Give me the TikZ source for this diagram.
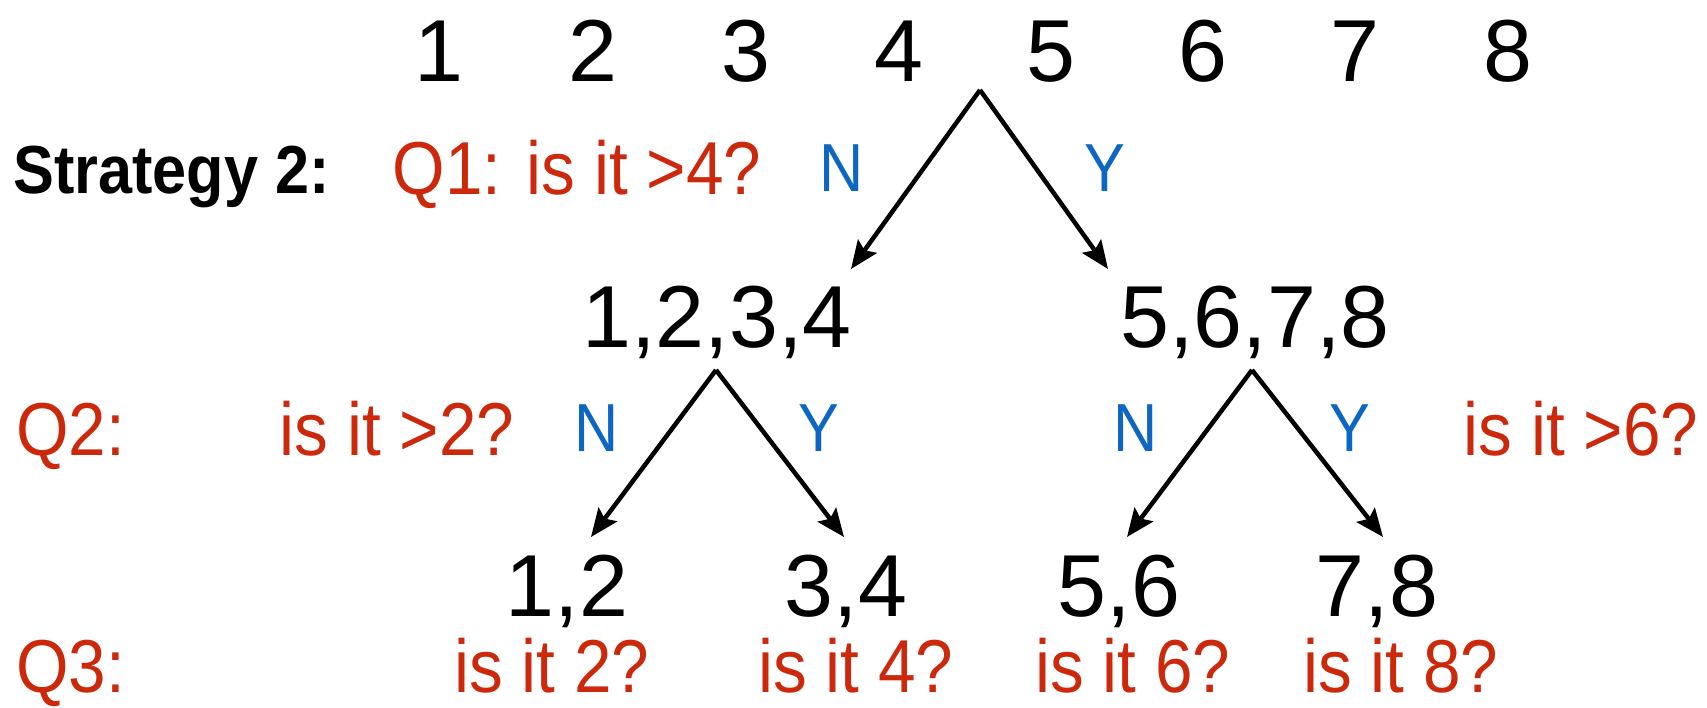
\documentclass[tikz,border=0pt]{standalone}
\usepackage{fontspec}
\setmainfont{Liberation Sans}
\newfontfamily\narrowfont[FakeStretch=0.9]{Liberation Sans}
\usepackage{xcolor}
\usetikzlibrary{arrows.meta, positioning}

\definecolor{qred}{RGB}{204,41,12}
\definecolor{ynblue}{RGB}{12,102,194}

\begin{document}
\begin{tikzpicture}[
x=1pt, y=-1pt,
    num/.style={anchor=base, inner sep=0pt, font=\fontsize{88}{92}\selectfont},
    question/.style={anchor=base, inner sep=0pt, text=qred, font=\narrowfont\fontsize{75}{80}\selectfont},
    answer/.style={anchor=base, inner sep=0pt, text=ynblue, font=\narrowfont\fontsize{68}{72}\selectfont},
    title/.style={anchor=base west, inner sep=0pt, font=\narrowfont\bfseries\fontsize{68}{72}\selectfont},
    branch/.style={draw, line width=4.5pt, -{Stealth[length=28pt, width=23pt, inset=5pt]}}
]
    \useasboundingbox (0,0) rectangle (1707,707);

    % --- Top row: the eight numbers ---
    \foreach \n/\xx in {1/439, 2/593, 3/746, 4/899, 5/1051, 6/1203, 7/1355, 8/1508}
        \node[num] (top\n) at (\xx, 81) {\n};

    % --- Question 1 ---
    \node[title] (strategy) at (13, 193) {Strategy 2:};
    \node[question] (q1) at (577, 194) {Q1: is it >4?};
    \node[answer] (n1) at (842, 191) {N};
    \node[answer] (y1) at (1105, 191) {Y};

    \coordinate (split1) at (980, 90);
    \coordinate (end1l) at (851, 269);
    \coordinate (end1r) at (1108, 269);
    \draw[branch] (split1) -- (end1l);
    \draw[branch] (split1) -- (end1r);

    % --- Second level ---
    \node[num] (lo4) at (717, 347) {1,2,3,4};
    \node[num] (hi4) at (1255, 347) {5,6,7,8};

    \node[question, anchor=base west] (q2) at (16, 455) {Q2:};
    \node[question] (q2l) at (397, 455) {is it >2?};
    \node[question] (q2r) at (1581, 455) {is it >6?};
    \node[answer] (n2l) at (597, 451) {N};
    \node[answer] (y2l) at (819, 451) {Y};
    \node[answer] (n2r) at (1136, 451) {N};
    \node[answer] (y2r) at (1350, 451) {Y};

    \coordinate (split2l) at (716, 370);
    \coordinate (split2r) at (1252, 370);
    \coordinate (end2a) at (591, 537);
    \coordinate (end2b) at (844, 537);
    \coordinate (end2c) at (1127, 537);
    \coordinate (end2d) at (1383, 537);
    \draw[branch] (split2l) -- (end2a);
    \draw[branch] (split2l) -- (end2b);
    \draw[branch] (split2r) -- (end2c);
    \draw[branch] (split2r) -- (end2d);

    % --- Third level ---
    \node[num] (p12) at (567, 616) {1,2};
    \node[num] (p34) at (846, 616) {3,4};
    \node[num] (p56) at (1119, 616) {5,6};
    \node[num] (p78) at (1377, 616) {7,8};

    \node[question, anchor=base west] (q3) at (16, 692) {Q3:};
    \node[question] (q3a) at (552, 692) {is it 2?};
    \node[question] (q3b) at (856, 692) {is it 4?};
    \node[question] (q3c) at (1133, 692) {is it 6?};
    \node[question] (q3d) at (1401, 692) {is it 8?};

\end{tikzpicture}
\end{document}
